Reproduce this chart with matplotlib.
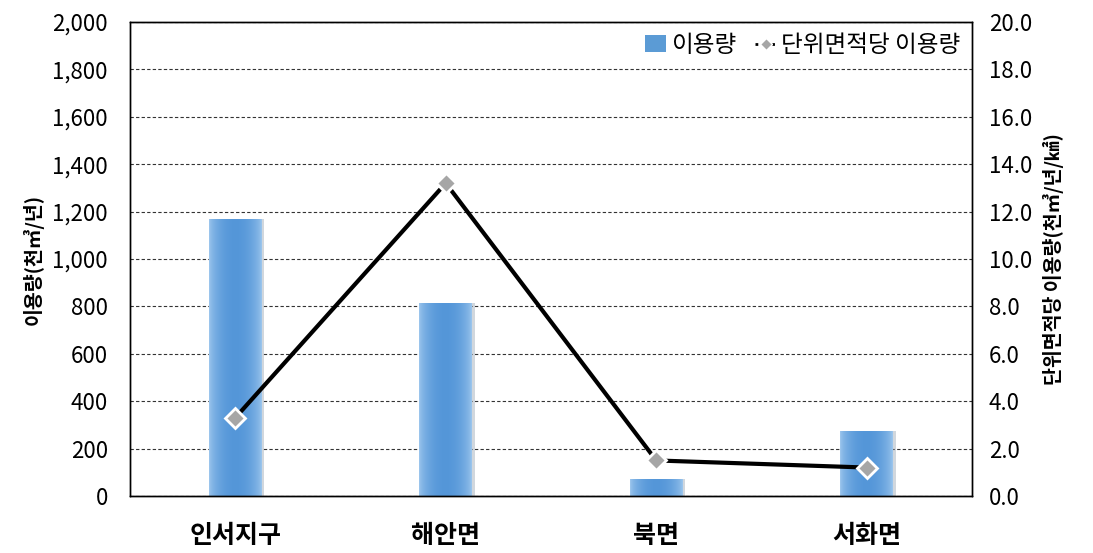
import numpy as np
import matplotlib
matplotlib.use("Agg")
from matplotlib import pyplot as plt
from matplotlib.ticker import FuncFormatter, MultipleLocator
from matplotlib.lines import Line2D
from matplotlib.patches import Patch

plt.rcParams['font.family'] = ['Noto Sans CJK KR', 'DejaVu Sans']

categories = ["인서지구", "해안면", "북면", "서화면"]
usage = [1170, 814, 72, 274]
usage_per_area = [3.3, 13.2, 1.5, 1.2]

fig = plt.figure(figsize=(10.93, 5.53), dpi=100)
ax = fig.add_axes([130 / 1093, 57 / 553, 842 / 1093, 474 / 553])
ax2 = ax.twinx()

x = np.arange(len(categories))
bar_w = 0.25

# gradient for bars (slightly lighter edges, blue middle)
t = np.linspace(0, 1, 64)
w = np.sin(np.pi * t) ** 0.6
light = np.array([0.62, 0.78, 0.93])
dark = np.array([0.33, 0.59, 0.85])
cols = light[None, :] * (1 - w[:, None]) + dark[None, :] * w[:, None]
img = cols[None, :, :]

bars = ax.bar(x, usage, width=bar_w, color="#5b9bd5", zorder=2)
for b in bars:
    # soft shadow on the right
    ax.bar(b.get_x() + b.get_width() / 2 + 0.012, b.get_height(), width=bar_w,
           color="#9aa7b5", alpha=0.45, zorder=1.5)
    im = ax.imshow(img, extent=[b.get_x(), b.get_x() + b.get_width(), 0, b.get_height()],
                   aspect="auto", zorder=2.1, interpolation="bicubic")
    im.set_clip_path(b)

ax.set_xlim(-0.5, 3.5)
ax.set_ylim(0, 2000)
ax.yaxis.set_major_locator(MultipleLocator(200))
ax.yaxis.set_major_formatter(FuncFormatter(lambda v, p: f"{int(v):,}"))
ax.grid(axis="y", linestyle=(0, (3, 2)), color="#333333", linewidth=0.8, zorder=0)
ax.set_axisbelow(True)
ax.set_xticks(x)
ax.set_xticklabels(categories, fontsize=18, fontweight="bold")
ax.tick_params(axis="x", length=0, pad=20)
ax.tick_params(axis="y", length=0, labelsize=16, pad=16)
ax.set_ylabel("이용량(천㎥/년)", fontsize=14, fontweight="bold", labelpad=6)

ax2.plot(x, usage_per_area, color="black", linewidth=3, zorder=3,
         marker="D", markersize=10, markerfacecolor="#a6a6a6",
         markeredgecolor="white", markeredgewidth=2)
ax2.set_ylim(0, 20)
ax2.yaxis.set_major_locator(MultipleLocator(2))
ax2.yaxis.set_major_formatter(FuncFormatter(lambda v, p: f"{v:.1f}"))
ax2.tick_params(axis="y", length=0, labelsize=16, pad=12)
ax2.set_ylabel("단위면적당 이용량(천㎥/년/㎢)", fontsize=14, fontweight="bold", labelpad=8)

for a in (ax, ax2):
    for s in a.spines.values():
        s.set_color("black")
        s.set_linewidth(1.0)

handles = [
    Patch(facecolor="#5b9bd5", edgecolor="none"),
    Line2D([0], [0], color="black", linestyle=(0, (1, 2)), linewidth=2,
           marker="D", markersize=6, markerfacecolor="#a6a6a6", markeredgecolor="white"),
]
leg = ax2.legend(handles, ["이용량", "단위면적당 이용량"], loc="upper right",
                 frameon=False, fontsize=17, handlelength=0.9, handletextpad=0.2,
                 columnspacing=0.8, ncol=2, borderaxespad=0.1)

fig.savefig("out.png", dpi=100)
